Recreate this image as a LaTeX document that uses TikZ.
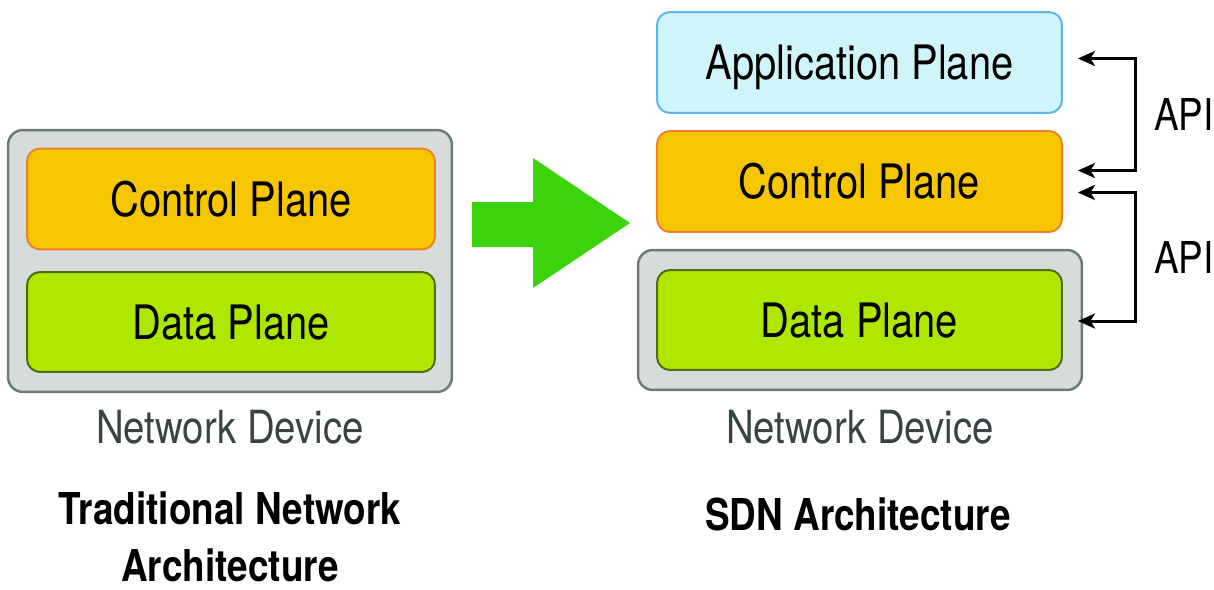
\documentclass[tikz,border=0pt]{standalone}
\usepackage{fontspec}
\setmainfont[FakeStretch=0.84]{TeX Gyre Heros}
\usetikzlibrary{arrows.meta,positioning}

\definecolor{devfill}{HTML}{D6DCDB}
\definecolor{devline}{HTML}{6F7B79}
\definecolor{ctrlfill}{HTML}{F6C700}
\definecolor{ctrlline}{HTML}{F2802A}
\definecolor{datafill}{HTML}{AEE800}
\definecolor{dataline}{HTML}{4F6B14}
\definecolor{appfill}{HTML}{CFF5FB}
\definecolor{appline}{HTML}{5DB5EA}
\definecolor{movegreen}{HTML}{3DD30C}
\definecolor{captext}{HTML}{3A4343}

\begin{document}
\begin{tikzpicture}[x=0.02cm, y=-0.02cm,
  plane/.style={draw, rounded corners=0.26cm, line width=0.04cm, minimum width=8.1cm, minimum height=2.02cm, inner sep=0pt, text height=0.68cm, text depth=0pt, font=\fontsize{27}{32}\selectfont},
  device/.style={draw=devline, fill=devfill, rounded corners=0.3cm, line width=0.05cm, minimum width=8.88cm, inner sep=0pt},
  caption/.style={anchor=base, text=captext, font=\fontsize{26}{31}\selectfont},
  title/.style={anchor=base, align=center, inner sep=0pt, font=\fontsize{25}{32}\selectfont\bfseries},
  api/.style={{Stealth[length=3.4mm,width=3mm,inset=0.9mm]}-{Stealth[length=3.4mm,width=3mm,inset=0.9mm]}, line width=0.06cm}
]
\useasboundingbox (0,0) rectangle (1214,589);

% traditional side
\node[device, minimum height=5.24cm] (olddev) at (230,261) {};
\node[plane, fill=ctrlfill, draw=ctrlline, minimum width=8.16cm] (oldctrl) at (231,199) {Control Plane};
\node[plane, fill=datafill, draw=dataline, minimum width=8.16cm, minimum height=2cm] (olddata) at (231,322) {Data Plane};
\node[caption] (oldlabel) at (230,443) {Network Device};
\node[title] (oldtitle) at (230,581) {Traditional Network\\Architecture};

% big arrow
\fill[movegreen] (472,202) -- (533,202) -- (533,158) -- (630,223) -- (533,288) -- (533,247) -- (472,247) -- cycle;

% SDN side
\node[device, minimum height=2.8cm] (newdev) at (860,320) {};
\node[plane, fill=appfill, draw=appline] (app) at (859.5,62.5) {Application Plane};
\node[plane, fill=ctrlfill, draw=ctrlline] (ctrl) at (859.5,181.5) {Control Plane};
\node[plane, fill=datafill, draw=dataline, minimum height=2cm] (data) at (859.5,320) {Data Plane};
\node[caption] (newlabel) at (860,443) {Network Device};
\node[title] (newtitle) at (858,530) {SDN Architecture};

\draw[api] ([shift={(15,-4)}]app.east) -- ++(58,0) |- ([shift={(15,-11)}]ctrl.east);
\draw[api] ([shift={(15,11)}]ctrl.east) -- ++(58,0) |- ([shift={(15,1)}]data.east);
\node[anchor=base west, font=\fontsize{25}{30}\selectfont] (api1) at (1148,130) {API};
\node[anchor=base west, font=\fontsize{25}{30}\selectfont] (api2) at (1148,273) {API};
\end{tikzpicture}
\end{document}
